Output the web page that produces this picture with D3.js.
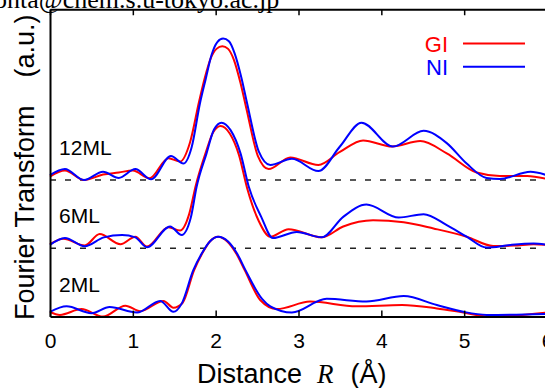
<!DOCTYPE html>
<html>
<head>
<meta charset="utf-8">
<script src="https://cdn.jsdelivr.net/npm/d3@7"></script>
<style>
  body { margin: 0; background: #fff; overflow: hidden; }
  svg { display: block; font-family: "Liberation Sans", Arial, sans-serif; }
</style>
</head>
<body>
<div id="app"></div>
<script>
// Fourier transform magnitude, [R (Å), intensity a.u.]
const gi12 = [[0,0.5],[0.18,1.4],[0.41,0.0],[0.64,0.8],[0.83,1.1],[1.0,1.4],[1.2,0.25],[1.43,3.2],[1.57,2.7],[1.69,5.5],[1.8,11.5],[1.87,15.0],[1.94,17.8],[2.01,19.2],[2.08,19.6],[2.15,19.2],[2.22,17.6],[2.3,14.2],[2.37,10.5],[2.51,3.5],[2.64,1.6],[2.9,3.3],[3.24,2.2],[3.5,4.1],[3.78,5.8],[4.13,4.9],[4.47,5.7],[4.79,3.9],[5.15,1.1],[5.43,0.6],[5.76,0.6],[6.0,0.15]];
const ni12 = [[0,0.7],[0.18,1.6],[0.41,0.0],[0.64,1.2],[0.83,0.3],[1.03,1.6],[1.22,0.1],[1.46,3.5],[1.61,2.4],[1.71,4.8],[1.81,11.2],[1.88,14.8],[1.95,18.3],[2.02,20.2],[2.09,20.7],[2.16,20.3],[2.23,18.5],[2.31,15.0],[2.38,11.2],[2.52,4.2],[2.66,2.2],[2.92,3.1],[3.24,1.3],[3.5,4.9],[3.76,8.4],[4.14,4.9],[4.51,7.2],[4.79,5.4],[5.03,2.4],[5.27,0.3],[5.43,0.15],[5.8,1.2],[6.0,0.7]];
const gi6 = [[0,0.6],[0.16,1.4],[0.42,0.4],[0.6,2.1],[0.85,0.6],[1.03,1.7],[1.17,0.25],[1.43,3.1],[1.57,2.6],[1.68,5.0],[1.76,9.2],[1.88,14.0],[1.97,17.0],[2.06,17.9],[2.17,16.8],[2.28,13.7],[2.38,8.8],[2.52,4.0],[2.66,1.7],[2.88,2.8],[3.28,1.6],[3.54,3.2],[3.9,4.1],[4.27,3.8],[4.63,2.9],[5.03,1.7],[5.35,0.35],[5.6,0.4],[5.84,0.6],[6.0,0.5]];
const ni6 = [[0,0.5],[0.18,1.5],[0.42,0.3],[0.65,1.6],[0.87,1.95],[1.03,1.6],[1.17,0.15],[1.45,3.2],[1.59,1.95],[1.7,4.5],[1.77,9.0],[1.89,13.9],[1.98,17.4],[2.07,18.4],[2.18,17.3],[2.3,13.9],[2.4,9.0],[2.55,4.6],[2.69,1.5],[2.98,2.4],[3.28,1.6],[3.54,4.6],[3.82,6.4],[4.21,4.5],[4.51,5.0],[4.79,3.4],[5.03,1.7],[5.27,0.1],[5.56,0.5],[5.84,0.7],[6.0,0.5]];
const gi2 = [[0,0.7],[0.12,0.25],[0.38,1.1],[0.64,0.0],[0.91,1.6],[1.09,0.8],[1.37,2.3],[1.49,1.3],[1.6,2.0],[1.74,6.8],[1.84,9.3],[1.93,11.0],[2.03,11.7],[2.14,11.0],[2.25,9.2],[2.35,6.8],[2.54,2.4],[2.74,1.1],[3.14,2.2],[3.7,1.5],[4.25,1.7],[4.67,1.2],[4.99,0.6],[5.31,0.0],[6.0,0.6]];
const ni2 = [[0,0.7],[0.2,1.5],[0.5,0.5],[0.72,1.4],[1.05,0.6],[1.33,2.3],[1.49,0.7],[1.59,1.9],[1.73,6.8],[1.83,9.2],[1.93,11.0],[2.03,11.7],[2.15,11.0],[2.26,9.2],[2.36,6.8],[2.56,2.6],[2.66,1.5],[2.92,0.6],[3.34,2.6],[3.82,2.2],[4.27,3.0],[4.67,1.7],[4.99,0.7],[5.27,0.25],[6.0,0.4]];

const sampleNames = ["12ML", "6ML", "2ML"];
const offsets = [20, 10, 0];
const giSeries = [gi12, gi6, gi2];
const niSeries = [ni12, ni6, ni2];
const xTicks = [0, 1, 2, 3, 4, 5, 6];
const legendItems = [
  { label: "GI", color: "#ff0000" },
  { label: "NI", color: "#0000ff" },
];

const width = 545;
const height = 388;

const x = d3.scaleLinear().domain([0, 6]).range([50, 547]);
const y = d3.scaleLinear().domain([0, 45]).range([316.6, 9.25]);

const svg = d3
  .select("#app")
  .append("svg")
  .attr("width", width)
  .attr("height", height);

// clipped header text from the source page
svg
  .append("text")
  .attr("x", -6)
  .attr("y", 8)
  .style("font-family", "'Liberation Serif', 'Times New Roman', serif")
  .style("font-size", "26px")
  .text("onta@chem.s.u-tokyo.ac.jp");

sampleNames.forEach((name, i) => {
  const off = offsets[i];
  const g = svg.append("g").attr("class", "sample");

  const area = d3
    .area()
    .x((d) => x(d[0]))
    .y0(y(off))
    .y1((d) => y(d[1] + off))
    .curve(d3.curveMonotoneX);

  const line = d3
    .line()
    .x((d) => x(d[0]))
    .y((d) => y(d[1] + off))
    .curve(d3.curveMonotoneX);

  [giSeries[i], niSeries[i]].forEach((s) => {
    g.append("path").attr("d", area(s)).attr("fill", "#fff");
  });

  if (off > 0) {
    g.append("line")
      .attr("x1", x(0))
      .attr("x2", x(6))
      .attr("y1", y(off))
      .attr("y2", y(off))
      .attr("stroke", "#222")
      .attr("stroke-width", 1.5)
      .attr("stroke-dasharray", "6,9");
  }

  g.append("path")
    .attr("d", line(giSeries[i]))
    .attr("fill", "none")
    .attr("stroke", legendItems[0].color)
    .attr("stroke-width", 2);

  g.append("path")
    .attr("d", line(niSeries[i]))
    .attr("fill", "none")
    .attr("stroke", legendItems[1].color)
    .attr("stroke-width", 2);

  g.append("text")
    .attr("x", x(0.11))
    .attr("y", y(off + 3.65))
    .style("font-size", "21px")
    .text(name);
});

// frame and axes
const bottomAxis = svg
  .append("g")
  .attr("transform", `translate(0, ${y(0)})`)
  .call(
    d3.axisBottom(x)
      .tickValues(xTicks)
      .tickFormat(d3.format("d"))
      .tickSizeInner(-6)
      .tickSizeOuter(0)
      .tickPadding(16)
  );
bottomAxis.select(".domain").attr("stroke-width", 2);
bottomAxis.selectAll(".tick line").attr("stroke-width", 1.5);
bottomAxis.selectAll(".tick text").style("font-size", "21px");
bottomAxis.attr("font-family", null).attr("font-size", null);

const topAxis = svg
  .append("g")
  .attr("transform", `translate(0, ${y(45)})`)
  .call(d3.axisTop(x).tickValues(xTicks).tickFormat("").tickSizeInner(-6).tickSizeOuter(0));
topAxis.select(".domain").attr("stroke-width", 2);
topAxis.selectAll(".tick line").attr("stroke-width", 1.5);

const leftAxis = svg
  .append("g")
  .attr("transform", `translate(${x(0)}, 0)`)
  .call(d3.axisLeft(y).tickValues([]).tickSizeOuter(0));
leftAxis.select(".domain").attr("stroke-width", 2);

// axis titles
const xTitle = svg
  .append("text")
  .attr("x", 197)
  .attr("y", 383)
  .style("font-size", "27px")
  .text("Distance");
xTitle
  .append("tspan")
  .attr("dx", 15)
  .style("font-family", "'Liberation Serif', 'Times New Roman', serif")
  .style("font-style", "italic")
  .text("R");
xTitle.append("tspan").attr("dx", 17).text("(Å)");

const yTitle = svg
  .append("text")
  .attr("transform", "translate(34, 320) rotate(-90)")
  .style("font-size", "27px")
  .text("Fourier Transform");
yTitle.append("tspan").attr("dx", 28).text("(a.u.)");

// legend
const legend = svg.append("g").attr("transform", "translate(448, 43.5)");
legendItems.forEach((item, i) => {
  const row = legend.append("g").attr("transform", `translate(0, ${i * 23.3})`);
  row.append("text")
    .attr("text-anchor", "end")
    .attr("y", 8)
    .style("font-size", "22px")
    .attr("fill", item.color)
    .text(item.label);
  row.append("line")
    .attr("x1", 15)
    .attr("x2", 77)
    .attr("stroke", item.color)
    .attr("stroke-width", 2);
});
</script>
</body>
</html>
